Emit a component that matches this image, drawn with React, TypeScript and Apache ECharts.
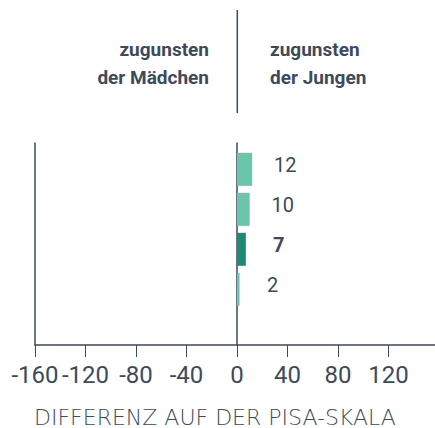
import React, { useEffect, useRef } from "react";
import * as echarts from "echarts";

const categories = ["Gruppe 1", "Gruppe 2", "Gruppe 3", "Gruppe 4"];
const values = [12, 10, 7, 2];
const highlighted = [false, false, true, false];
const xTicks = { min: -160, max: 156.8, interval: 40 };
const axisTitle = "DIFFERENZ AUF DER PISA-SKALA";
const headerLeft = "zugunsten\nder Mädchen";
const headerRight = "zugunsten\nder Jungen";

const INK = "#3d4a5a";
const LIGHT = "#69c6aa";
const DARK = "#1d8a73";

export default function App() {
  const ref = useRef<HTMLDivElement>(null);
  useEffect(() => {
    document.body.style.margin = "0";
    if (!ref.current) return;
    const chart = echarts.init(ref.current, undefined, { renderer: "svg" });
    const option: any = {
      animation: false,
      title: {
        text: axisTitle,
        left: 34,
        top: 406,
        padding: 0,
        textStyle: {
          fontFamily: "DejaVu Sans",
          fontWeight: 200,
          fontSize: 22,
          color: INK,
        },
      },
      grid: [
        { left: 35, top: 143, right: 0, height: 202 },
        { left: 35, top: 149.3, right: 0, height: 160 },
      ],
      xAxis: [
        {
          type: "value",
          gridIndex: 0,
          min: xTicks.min,
          max: xTicks.max,
          interval: xTicks.interval,
          axisLine: { show: true, onZero: false, lineStyle: { color: INK, width: 1.5 } },
          axisTick: { show: true, length: 12, lineStyle: { color: INK, width: 1 } },
          axisLabel: {
            showMinLabel: true,
            showMaxLabel: false,
            hideOverlap: false,
            margin: 18,
            fontFamily: "Liberation Sans Narrow, Arial Narrow, Roboto, sans-serif",
            fontSize: 24,
            color: INK,
          },
          splitLine: { show: false },
        },
        {
          type: "value",
          gridIndex: 1,
          min: xTicks.min,
          max: xTicks.max,
          interval: xTicks.interval,
          show: false,
        },
      ],
      yAxis: [
        {
          type: "value",
          gridIndex: 0,
          min: 0,
          max: 1,
          position: "left",
          axisLine: { show: true, onZero: false, lineStyle: { color: INK, width: 1.5 } },
          axisTick: { show: false },
          axisLabel: { show: false },
          splitLine: { show: false },
        },
        {
          type: "value",
          gridIndex: 0,
          min: 0,
          max: 1,
          position: "left",
          axisLine: { show: true, onZero: true, lineStyle: { color: INK, width: 1.5 } },
          axisTick: { show: false },
          axisLabel: { show: false },
          splitLine: { show: false },
        },
        {
          type: "category",
          gridIndex: 1,
          data: categories,
          inverse: true,
          show: false,
        },
      ],
      series: [
        {
          type: "bar",
          xAxisIndex: 1,
          yAxisIndex: 2,
          barWidth: 33,
          data: values.map((v, i) => ({
            value: v,
            itemStyle: { color: highlighted[i] ? DARK : LIGHT },
            label: { fontWeight: highlighted[i] ? "bold" : "normal" },
          })),
          label: {
            show: true,
            position: "right",
            distance: 33,
            align: "center",
            verticalAlign: "middle",
            offset: [0, -4],
            fontFamily: "Roboto, sans-serif",
            fontSize: 20,
            color: INK,
          },
        },
      ],
      graphic: [
        {
          type: "line",
          shape: { x1: 237.3, y1: 10, x2: 237.3, y2: 113 },
          style: { stroke: INK, lineWidth: 1.5 },
        },
        {
          type: "text",
          x: 209,
          y: 35,
          style: {
            text: headerLeft,
            align: "right",
            verticalAlign: "top",
            lineHeight: 28,
            fontFamily: "Roboto, sans-serif",
            fontWeight: "bold",
            fontSize: 19,
            fill: INK,
          },
        },
        {
          type: "text",
          x: 270,
          y: 35,
          style: {
            text: headerRight,
            align: "left",
            verticalAlign: "top",
            lineHeight: 28,
            fontFamily: "Roboto, sans-serif",
            fontWeight: "bold",
            fontSize: 19,
            fill: INK,
          },
        },
      ],
    };
    chart.setOption(option);
    return () => chart.dispose();
  }, []);
  return <div ref={ref} style={{ width: 435, height: 428 }} />;
}
